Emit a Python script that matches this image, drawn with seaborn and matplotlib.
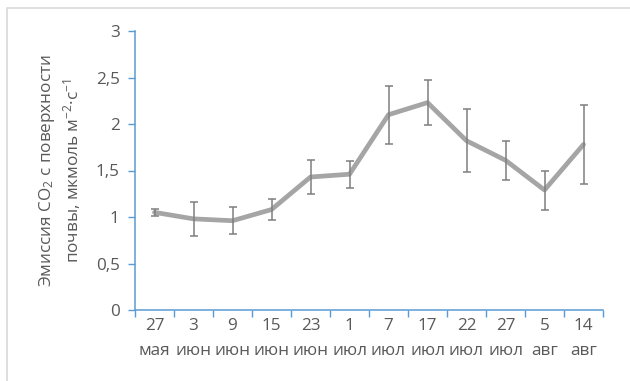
import matplotlib
matplotlib.use("Agg")
import matplotlib.pyplot as plt
from matplotlib.patches import Rectangle
from matplotlib.ticker import FuncFormatter, FixedLocator
import seaborn as sns
import pandas as pd
import numpy as np

# Sampling dates (day / month)
days = ["27", "3", "9", "15", "23", "1", "7", "17", "22", "27", "5", "14"]
months = ["мая", "июн", "июн", "июн", "июн", "июл", "июл", "июл", "июл", "июл", "авг", "авг"]

# Soil surface CO2 efflux, µmol m-2 s-1, and its error
flux = [1.05, 0.98, 0.96, 1.08, 1.43, 1.46, 2.10, 2.23, 1.82, 1.61, 1.29, 1.78]
err = [0.04, 0.18, 0.145, 0.11, 0.185, 0.145, 0.31, 0.245, 0.34, 0.21, 0.21, 0.42]

labels = [f"{d}\n{m}" for d, m in zip(days, months)]
df = pd.DataFrame({"pos": np.arange(len(flux)), "flux": flux, "err": err})

sns.set_theme(style="white")
plt.rcParams["font.family"] = ["Open Sans", "DejaVu Sans"]
plt.rcParams["mathtext.fontset"] = "custom"
plt.rcParams["mathtext.rm"] = "Open Sans"
plt.rcParams["mathtext.it"] = "Open Sans"

text_c = "#595959"
axis_c = "#5B9BD5"
fs = 12.3

fig = plt.figure(figsize=(6.3, 3.81), dpi=100)
# chart frame
fig.patches.append(Rectangle((7 / 630, -0.1), 1.2, 1 - 8 / 381 + 0.1,
                             transform=fig.transFigure, fill=False,
                             edgecolor="#D9D9D9", linewidth=1.2))
ax = fig.add_axes([135 / 630, 1 - 310 / 381, 468 / 630, 279 / 381])

sns.lineplot(data=df, x="pos", y="flux", ax=ax, color="#A5A5A5",
             linewidth=3.4, zorder=2, legend=False)
ax.errorbar(df["pos"], df["flux"], yerr=df["err"], fmt="none",
            ecolor="#7F7F7F", elinewidth=1.1, capsize=3.2, capthick=1.1,
            zorder=3)

ax.set_xlim(-0.5, len(flux) - 0.5)
ax.set_ylim(0, 3)
ax.set_yticks([0, 0.5, 1, 1.5, 2, 2.5, 3])
ax.yaxis.set_major_formatter(FuncFormatter(lambda v, p: f"{v:g}".replace(".", ",")))

# category boundaries as major ticks, labels on minor ticks
ax.xaxis.set_major_locator(FixedLocator(np.arange(-0.5, len(flux), 1.0)))
ax.xaxis.set_major_formatter(FuncFormatter(lambda v, p: ""))
ax.xaxis.set_minor_locator(FixedLocator(np.arange(len(flux))))
ax.set_xticklabels(labels, minor=True)
ax.tick_params(axis="x", which="major", direction="out", length=5,
               width=1, color=axis_c, bottom=True)
ax.tick_params(axis="x", which="minor", length=0, pad=6,
               labelsize=fs, labelcolor=text_c)
for t in ax.get_xticklabels(minor=True):
    t.set_linespacing(1.7)
ax.tick_params(axis="y", direction="out", length=5, width=1,
               color=axis_c, left=True, labelsize=fs, labelcolor=text_c, pad=6)

for s in ["top", "right"]:
    ax.spines[s].set_visible(False)
for s in ["left", "bottom"]:
    ax.spines[s].set_color(axis_c)
    ax.spines[s].set_linewidth(1.1)

ax.set_xlabel("")
ax.set_ylabel("Эмиссия CO$_2$ с поверхности\nпочвы, мкмоль м$^{-2}$·с$^{-1}$",
              fontsize=fs, color=text_c, linespacing=1.25, labelpad=9)

fig.savefig("out.png", dpi=100)
